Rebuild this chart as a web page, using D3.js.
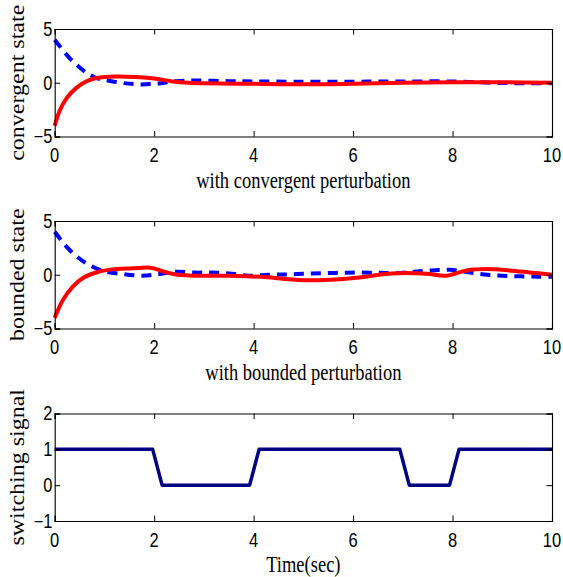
<!DOCTYPE html>
<html><head><meta charset="utf-8">
<script src="https://cdn.jsdelivr.net/npm/d3@7"></script>
<style>body{margin:0;background:#fff}svg{display:block}</style>
</head><body>
<script>
// ---- data ----
const convT1 = [0,0.3,0.6,0.84,1.0,1.33,1.7,2.1,2.43,2.83,3.5,4,5,6,7,8,8.5,9,9.5,10];
const convX1 = [4.0,2.3,1.06,0.44,0.28,0.0,-0.15,-0.06,0.15,0.2,0.15,0.12,0.1,0.1,0.12,0.12,0.05,-0.02,-0.05,-0.05];
const convT2 = [0,0.1,0.24,0.43,0.63,0.84,1.24,1.64,2.04,2.37,2.7,3.03,4,5,6,7,8,9,10];
const convX2 = [-4.0,-2.6,-1.43,-0.5,0.12,0.44,0.59,0.53,0.37,0.12,0.0,-0.05,-0.1,-0.15,-0.1,0.0,0.05,0.05,0.0];

const bndT1 = [0,0.3,0.63,0.97,1.37,1.77,2.1,2.43,2.83,3.2,3.56,3.9,4.3,4.65,5.03,5.4,5.76,6.12,6.49,6.85,7.22,7.58,7.95,8.28,8.64,9.0,9.37,9.74,10];
const bndX1 = [4.0,2.3,1.08,0.37,0.06,-0.09,0.06,0.28,0.2,0.2,0.1,-0.1,0.0,0.03,0.09,0.15,0.18,0.21,0.18,0.15,0.28,0.4,0.46,0.25,0.03,-0.09,-0.15,-0.18,-0.18];
const bndT2 = [0,0.17,0.37,0.57,0.9,1.23,1.57,1.93,2.16,2.43,2.7,3.03,3.5,3.9,4.23,4.63,5.09,5.55,6.02,6.3,6.6,6.95,7.48,7.88,8.28,8.68,9.14,9.54,10];
const bndX2 = [-4.0,-2.3,-1.08,-0.3,0.3,0.53,0.6,0.65,0.34,0.03,-0.06,-0.09,-0.1,-0.15,-0.22,-0.4,-0.52,-0.46,-0.31,-0.15,0.05,0.15,0.09,-0.09,0.4,0.53,0.4,0.22,0.0];

const swT = [0,1.97,2.16,3.92,4.11,6.94,7.13,7.94,8.13,10];
const swV = [1,1,0,0,1,1,0,0,1,1];

const xTicks = [0,2,4,6,8,10];
const stateTicks = [-5,0,5];
const swTicks = [-1,0,1,2];
const yLabels = ["convergent state","bounded state","switching signal"];
const xLabels = ["with convergent perturbation","with bounded perturbation","Time(sec)"];

// ---- layout ----
const W = 563, H = 577;
const L = 54.7, R = 552;
const tops = [29, 221, 413.5], PH = 107.5;
const SY = 1.17; // vertical text stretch

const svg = d3.select("body").append("svg").attr("width", W).attr("height", H);
const x = d3.scaleLinear().domain([0,10]).range([L,R]);

const panels = [
  {domain:[-5,5], ticks:stateTicks, series:[
    {t:convT1, v:convX1, color:"#0000ff", dash:"10,7", curve:d3.curveCatmullRom},
    {t:convT2, v:convX2, color:"#ff0000", dash:null, curve:d3.curveCatmullRom}]},
  {domain:[-5,5], ticks:stateTicks, series:[
    {t:bndT1, v:bndX1, color:"#0000ff", dash:"10,7", curve:d3.curveCatmullRom},
    {t:bndT2, v:bndX2, color:"#ff0000", dash:null, curve:d3.curveCatmullRom}]},
  {domain:[-1,2], ticks:swTicks, series:[
    {t:swT, v:swV, color:"#000080", dash:null, curve:d3.curveLinear, w:3.5}]}
];

const fmt = v => (v<0 ? "\u2212"+Math.abs(v) : String(v));

panels.forEach((p,i) => {
  const top = tops[i], bot = top + PH;
  const y = d3.scaleLinear().domain(p.domain).range([bot, top]);
  const g = svg.append("g");

  // series
  p.series.forEach(s => {
    const pts = s.t.map((t,k) => [t, s.v[k]]);
    g.append("path")
      .attr("d", d3.line().x(d=>x(d[0])).y(d=>y(d[1])).curve(s.curve)(pts))
      .attr("fill","none").attr("stroke", s.color)
      .attr("stroke-width", s.w || 4)
      .attr("stroke-dasharray", s.dash)
      .attr("stroke-linejoin","round");
  });

  // axes with inward ticks (box)
  const axB = d3.axisBottom(x).tickValues(xTicks).tickSize(-5.5).tickFormat("");
  const axT = d3.axisTop(x).tickValues(xTicks).tickSize(-5.5).tickFormat("");
  const axL = d3.axisLeft(y).tickValues(p.ticks).tickSize(-5.5).tickFormat("");
  const axR = d3.axisRight(y).tickValues(p.ticks).tickSize(-5.5).tickFormat("");
  [[axB,`translate(0,${bot})`],[axT,`translate(0,${top})`],[axL,`translate(${L},0)`],[axR,`translate(${R},0)`]]
    .forEach(([ax,tr]) => {
      const a = g.append("g").attr("transform", tr).call(ax);
      a.select(".domain").attr("stroke","#000").attr("stroke-width",1.1);
      a.selectAll(".tick line").attr("stroke","#000").attr("stroke-width",1);
    });

  // tick labels
  xTicks.forEach(v => {
    g.append("text").attr("transform", `translate(${x(v)},${bot+25.5}) scale(1,${SY})`)
      .attr("text-anchor","middle").attr("font-family","Liberation Sans, Arial, sans-serif")
      .attr("font-size",16.5).attr("fill","#000").text(fmt(v));
  });
  p.ticks.forEach(v => {
    g.append("text").attr("transform", `translate(52.5,${y(v)}) scale(1,${SY})`)
      .attr("text-anchor","end").attr("dy","0.36em")
      .attr("font-family","Liberation Sans, Arial, sans-serif")
      .attr("font-size",16.5).attr("fill","#000").text(fmt(v));
  });

  // y label
  g.append("text").attr("transform", `translate(23.5,${top+PH/2}) scale(1,1.2) rotate(-90)`)
    .attr("text-anchor","middle").attr("font-family","Liberation Serif, Times New Roman, serif")
    .attr("font-size",20).attr("fill","#000").text(yLabels[i]);

  // x label
  const xlBase = [188, 379.5, 571.5][i];
  g.append("text").attr("transform", `translate(${(L+R)/2},${xlBase}) scale(1,1.2)`)
    .attr("text-anchor","middle").attr("font-family","Liberation Serif, Times New Roman, serif")
    .attr("font-size",18.5).attr("fill","#000").text(xLabels[i]);
});
</script>
</body></html>
